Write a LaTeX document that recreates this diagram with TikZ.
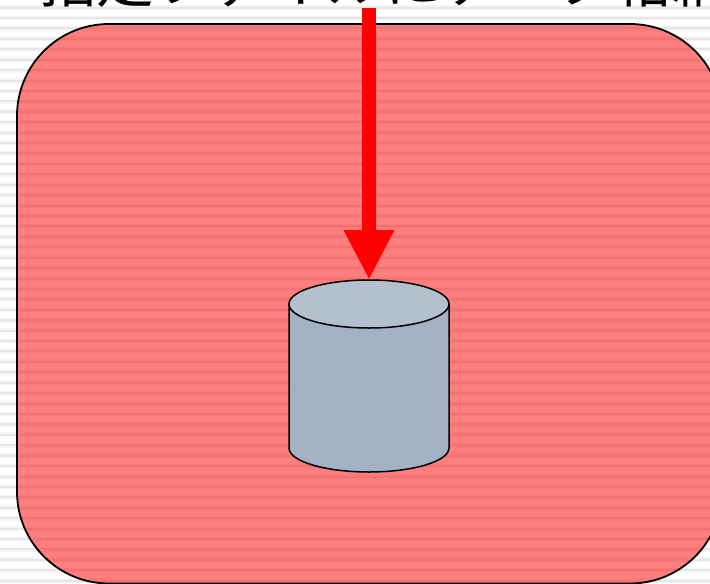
\documentclass[tikz,border=0pt]{standalone}
\usepackage{fontspec}
\newfontfamily\cjk{Noto Sans CJK JP}
\usetikzlibrary{arrows.meta}
\definecolor{stripeA}{HTML}{F5F5F5}
\definecolor{stripeB}{HTML}{E6E6E6}
\definecolor{bodyc}{HTML}{A3B1C2}
\definecolor{endc}{HTML}{B5C0CD}
\tikzset{
  panel/.style={draw=black,line width=1.8pt,fill=red,fill opacity=0.5,rounded corners=92pt},
  title/.style={inner sep=0pt,anchor=base west,font=\cjk\fontsize{57.6}{60}\selectfont},
  storagebody/.style={draw=black,line width=1.5pt,fill=bodyc,line join=round},
  storageend/.style={draw=black,line width=1.5pt,fill=endc},
  bigarrow/.style={draw=red,line width=13.5pt,-{Triangle[length=50pt,width=47pt,sep=0pt]}}
}
\begin{document}
\begin{tikzpicture}[x=1pt,y=-1pt]
\useasboundingbox (0,0) rectangle (710,584);
\fill[white] (0,0) rectangle (710,584);
\clip (0,0) rectangle (710,584);
\foreach \k in {0,...,55}{
  \pgfmathsetmacro{\yy}{7.6+10.42*\k}
  \fill[stripeA] (0,\yy-2.4) rectangle (710,\yy+2.4);
  \fill[stripeB] (0,\yy-1) rectangle (710,\yy+1);
}
\node[title] (t) at (39,2) {指定ファイルにデータ格納};
\path[panel] (17,24) rectangle (722,583.5);
\coordinate (tl) at (289,304);
\coordinate (tr) at (449,304);
\coordinate (bl) at (289,448);
\coordinate (br) at (449,448);
\coordinate (top) at (369,280);
\coordinate (src) at (369,8);
\path[storagebody] (tl) -- (bl) arc[start angle=180,end angle=360,x radius=80pt,y radius=24pt] -- (tr) -- cycle;
\path[storageend] (369,304) ellipse[x radius=80pt,y radius=24pt];
\draw[bigarrow] (src) -- (top);
\end{tikzpicture}
\end{document}
